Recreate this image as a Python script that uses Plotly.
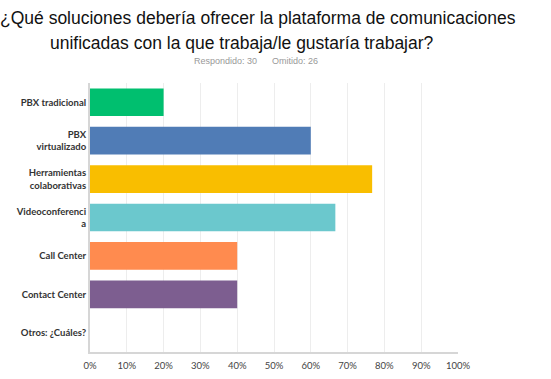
import plotly.graph_objects as go

categories = ["PBX tradicional", "PBX<br>virtualizado", "Herramientas<br>colaborativas",
              "Videoconferenci<br>a", "Call Center", "Contact Center", "Otros: ¿Cuáles?"]
values = [20.0, 60.0, 76.67, 66.67, 40.0, 40.0, 0.0]
colors = ["#00BF6F", "#507CB6", "#F9BE00", "#6BC8CD", "#FF8B4F", "#7D5E90", "#A0A0A0"]
tick_vals = [0, 10, 20, 30, 40, 50, 60, 70, 80, 90, 100]
tick_text = [f"{v}%" for v in tick_vals]

L, R, T, B = 90, 93, 83, 27
W, H = 551, 379

fig = go.Figure(go.Bar(
    x=values, y=categories, orientation="h",
    marker=dict(color=colors, line=dict(width=0)),
    width=0.72,
))

fig.update_layout(
    width=W, height=H,
    margin=dict(l=L, r=R, t=T, b=B, autoexpand=False),
    paper_bgcolor="white", plot_bgcolor="white",
    showlegend=False,
    font=dict(family="Lato", color="#333333"),
    xaxis=dict(range=[0, 100], tickvals=tick_vals, ticktext=tick_text,
               showgrid=True, gridcolor="#EDEDED", gridwidth=1, automargin=False,
               zeroline=False, showline=True, linecolor="#D6D6D6", linewidth=2,
               tickfont=dict(size=9.5, color="#444444"), ticks="", ticklen=0,
               ticklabelstandoff=4, fixedrange=True),
    yaxis=dict(autorange="reversed", showgrid=False, zeroline=False, automargin=False,
               showline=True, linecolor="#D6D6D6", linewidth=2,
               tickfont=dict(size=9.5, color="#333333", weight=700), ticks="", ticklen=0),
)

pw = W - L - R
ph = H - T - B
def px2paper(x, y):
    return (x - L) / pw, (H - y - B) / ph

anns = [
    ("¿Qué soluciones debería ofrecer la plataforma de comunicaciones", 258, 18, 17.5, "#111111", "Liberation Sans"),
    ("unificadas con la que trabaja/le gustaría trabajar?", 242, 43, 17.5, "#111111", "Liberation Sans"),
    ("Respondido: 30", 225, 61, 9, "#999999", "Liberation Sans"),
    ("Omitido: 26", 295, 61, 9, "#999999", "Liberation Sans"),
]
for text, x, y, size, col, fam in anns:
    ax, ay = px2paper(x, y)
    fig.add_annotation(text=text, x=ax, y=ay, xref="paper", yref="paper",
                       showarrow=False, xanchor="center", yanchor="middle",
                       font=dict(family=fam, size=size, color=col))

fig.write_html("out.html", config={"displayModeBar": False},
               post_script="document.body.style.margin='0';document.body.style.overflow='hidden';")
